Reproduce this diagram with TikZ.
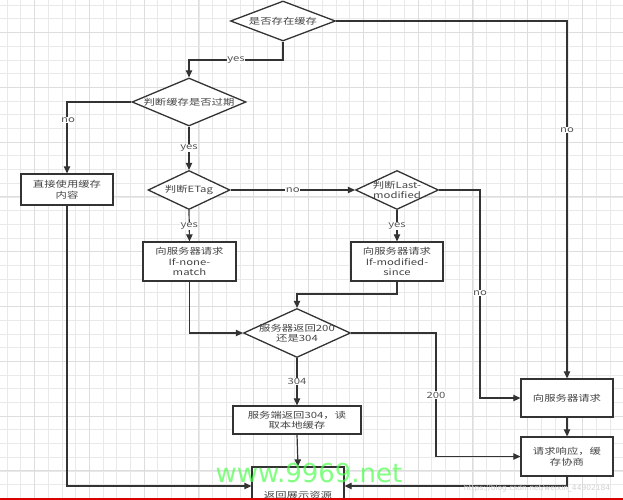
\documentclass[tikz,border=0pt]{standalone}
\usepackage{fontspec}
\newfontfamily\cjk[FakeStretch=1.32]{Noto Sans CJK SC}
\usetikzlibrary{shapes.geometric,arrows.meta,calc}
\definecolor{ln}{HTML}{333333}
\definecolor{tx}{HTML}{444444}
\definecolor{lbl}{HTML}{555555}
\begin{document}
\begin{tikzpicture}[x=1pt,y=-1pt,
  every node/.style={font=\cjk\fontsize{8.6}{10.5}\selectfont, text=tx},
  dia/.style={diamond, draw=ln, line width=1.3pt, fill=white, inner xsep=-40pt, inner ysep=-10pt, aspect=2.5, align=center},
  box/.style={rectangle, draw=ln, line width=1.3pt, fill=white, inner sep=1pt, align=center},
  con/.style={draw=ln, line width=1.2pt},
  arr/.style={con, -{Triangle[length=7pt,width=6.5pt]}},
  lab/.style={fill=white, inner sep=0.5pt, text=lbl, font=\cjk\fontsize{8.6}{9}\selectfont},
  gmin/.style={draw=gray!17, line width=0.5pt},
  gmaj/.style={draw=gray!27, line width=0.7pt}]
\useasboundingbox (0,0) rectangle (623,500);
\fill[white] (0,0) rectangle (623,500);
% grid
\foreach \i in {0,...,45} {\draw[gmin] (7+13.7*\i,0) -- (7+13.7*\i,500);}
\foreach \i in {0,...,37} {\draw[gmin] (0,5+13.7*\i) -- (623,5+13.7*\i);}
\foreach \i in {0,...,11} {\draw[gmaj] (34.4+54.8*\i,0) -- (34.4+54.8*\i,500);}
\foreach \i in {0,...,9} {\draw[gmaj] (0,32.4+54.8*\i) -- (623,32.4+54.8*\i);}

% nodes
\node[dia, minimum width=105pt, minimum height=40pt] (d1) at (283,21) {是否存在缓存};
\node[dia, minimum width=114pt, minimum height=48pt] (d2) at (189,102) {判断缓存是否过期};
\node[box, minimum width=92pt, minimum height=31pt, text width=80pt] (b1) at (67,189.5) {直接使用缓存\\内容};
\node[dia, minimum width=82pt, minimum height=39pt] (d3) at (189,190) {判断ETag};
\node[dia, minimum width=83pt, minimum height=39pt, font=\cjk\fontsize{8.6}{9.5}\selectfont] (d4) at (397,190) {判断Last-\\modified};
\node[box, minimum width=93pt, minimum height=39pt] (b2) at (189.5,261.5) {向服务器请求\\If-none-\\match};
\node[box, minimum width=92pt, minimum height=39pt] (b3) at (397,261.5) {向服务器请求\\If-modified-\\since};
\node[dia, minimum width=107pt, minimum height=49pt] (d5) at (297,333) {服务器返回200\\还是304};
\node[box, minimum width=128pt, minimum height=28pt] (b4) at (297,420) {服务端返回304，读\\取本地缓存};
\node[box, minimum width=92pt, minimum height=56pt] (b5) at (298,495) {返回展示资源};
\node[box, minimum width=92pt, minimum height=38pt] (b6) at (567,398) {向服务器请求};
\node[box, minimum width=92pt, minimum height=39pt] (b7) at (567,456.5) {请求响应，缓\\存协商};

% connectors
\draw[arr] (d1.south) -- (283,60) -- node[lab, pos=0.5] {yes} (189,60) -- (d2.north);
\draw[arr] (d1.east) -| (b6.north);
\node[lab] at (567,130) {no};
\draw[arr] (d2.west) -| (b1.north);
\node[lab] at (68,120) {no};
\draw[arr] (d2.south) -- node[lab] {yes} (d3.north);
\draw[arr] (d3.east) -- node[lab] {no} (d4.west);
\draw[arr] (d3.south) -- node[lab, pos=0.5] {yes} (b2.north);
\draw[arr] (d4.south) -- node[lab, pos=0.5] {yes} (b3.north);
\draw[arr] (d4.east) -- (480,190) |- (b6.west);
\node[lab] at (480,293) {no};
\draw[arr] (b2.south) |- (d5.west);
\draw[arr] (b3.south) -- (397,294) -| (d5.north);
\draw[arr] (d5.east) -- (436,333) |- (b7.west);
\node[lab] at (436,395) {200};
\draw[arr] (d5.south) -- node[lab, pos=0.5] {304} (b4.north);
\draw[arr] (b4.south) -- (b5.north);
\draw[arr] (b6.south) -- (b7.north);
\draw[arr] (b1.south) |- ([yshift=9pt]b5.west);
\draw[arr] (b7.south) |- ([yshift=9pt]b5.east);

% watermarks and bar
\node[text=green!70!white, opacity=0.7, font=\fontspec{DejaVu Sans}\fontsize{26}{26}\selectfont, inner sep=0pt, anchor=base] (wm) at (309,482) {www.9969.net};
\node[text=gray!35, font=\fontspec{DejaVu Sans}\fontsize{7.5}{8}\selectfont, inner sep=0pt] (wm2) at (537,489) {https://blog.csdn.net/weixin\_44902184};
\fill[red!85!black] (0,497.5) rectangle (623,500);
\end{tikzpicture}
\end{document}
